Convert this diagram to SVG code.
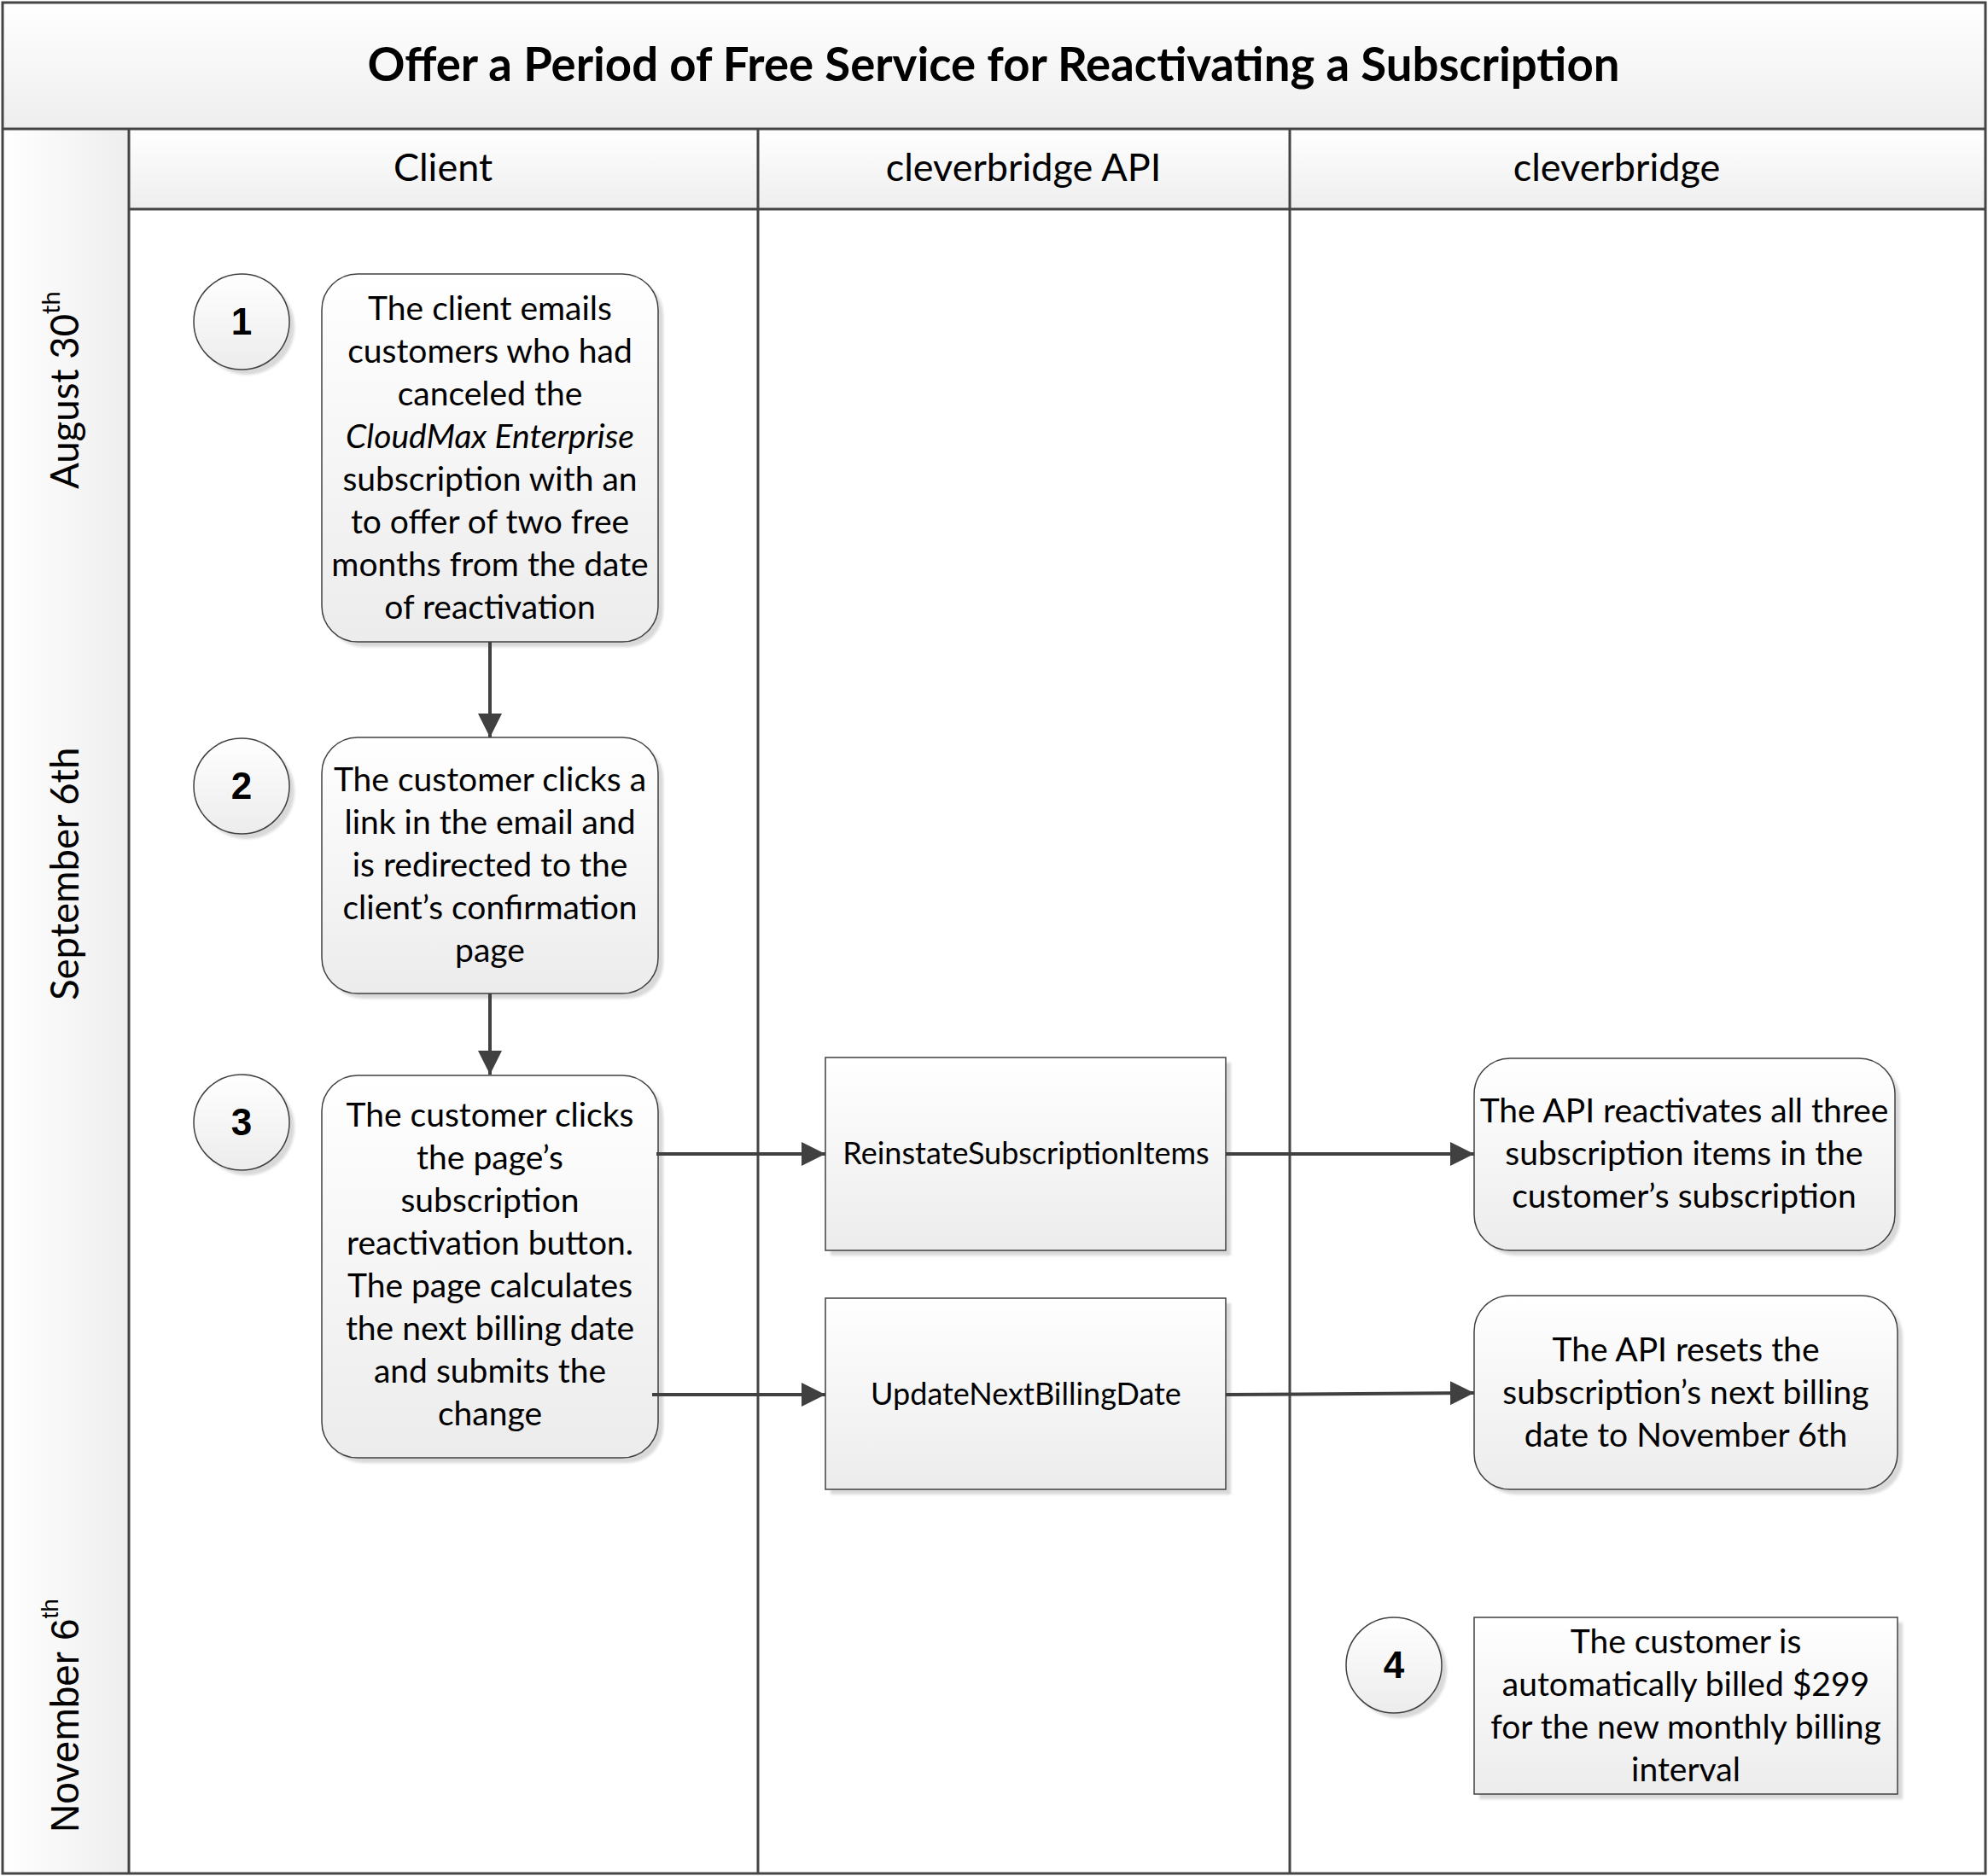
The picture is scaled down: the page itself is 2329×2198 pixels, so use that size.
<svg xmlns="http://www.w3.org/2000/svg" width="2329" height="2198" viewBox="0 0 2329 2198">
<defs>
<style>
.frame{fill:none;stroke:#454545;stroke-width:3}
.lane{stroke:#454545;stroke-width:3;fill:none}
.hdr{font-family:Lato,'Open Sans',sans-serif;font-size:45px;fill:#000;text-anchor:middle}
.title{font-family:Lato,'Open Sans',sans-serif;font-size:54.5px;font-weight:bold;fill:#000;text-anchor:middle}
.date{font-family:Lato,'Open Sans',sans-serif;font-size:45.5px;fill:#000}
.body{font-family:Lato,'Open Sans',sans-serif;font-size:39px;fill:#000;text-anchor:middle}
.api{font-family:Lato,'Open Sans',sans-serif;font-size:36px;fill:#000;text-anchor:middle}
.num{font-family:'Liberation Sans',Arial,sans-serif;font-size:44px;font-weight:bold;fill:#000;text-anchor:middle}
.shape{fill:url(#gNode);stroke:#404040;stroke-width:1.5}
.shadow{fill:#d9d9d9;filter:url(#blur)}
.conn{stroke:#404040;stroke-width:4;fill:none;marker-end:url(#arrow)}
</style>
<linearGradient id="gNode" x1="0" y1="0" x2="0" y2="1">
<stop offset="0" stop-color="#ffffff"/>
<stop offset="1" stop-color="#ececec"/>
</linearGradient>
<linearGradient id="gHead" x1="0" y1="0" x2="0" y2="1">
<stop offset="0" stop-color="#ffffff"/>
<stop offset="1" stop-color="#eeeeee"/>
</linearGradient>
<linearGradient id="gSide" x1="0" y1="0" x2="1" y2="0">
<stop offset="0" stop-color="#ffffff"/>
<stop offset="1" stop-color="#eeeeee"/>
</linearGradient>
<filter id="blur" x="-10%" y="-10%" width="120%" height="120%">
<feGaussianBlur stdDeviation="1.5"/>
</filter>
<marker id="arrow" markerUnits="userSpaceOnUse" markerWidth="28" markerHeight="28" refX="28" refY="14" orient="auto">
<path d="M0,0 L28,14 L0,28 Z" fill="#404040"/>
</marker>
</defs>

<g id="background">
<rect x="0" y="0" width="2329" height="2198" fill="#ffffff"/>
<rect x="3" y="3" width="2323" height="148" fill="url(#gHead)"/>
<rect x="151" y="151" width="2175" height="94" fill="url(#gHead)"/>
<rect x="3" y="151" width="148" height="2044" fill="url(#gSide)"/>
</g>

<g id="lanes">
<rect class="frame" x="3" y="3" width="2323" height="2192"/>
<line class="lane" x1="3" y1="151" x2="2326" y2="151"/>
<line class="lane" x1="151" y1="245" x2="2326" y2="245"/>
<line class="lane" x1="151" y1="151" x2="151" y2="2195"/>
<line class="lane" x1="888" y1="151" x2="888" y2="2195"/>
<line class="lane" x1="1511" y1="151" x2="1511" y2="2195"/>
</g>

<g id="title">
<text class="title" x="1164" y="95">Offer a Period of Free Service for Reactivating a Subscription</text>
</g>

<g id="lane-headers">
<text class="hdr" x="519" y="212">Client</text>
<text class="hdr" x="1199" y="212">cleverbridge API</text>
<text class="hdr" x="1894" y="212">cleverbridge</text>
</g>

<g id="dates">
<text class="date" transform="translate(92,573) rotate(-90)">August 30<tspan font-size="29" dy="-22">th</tspan></text>
<text class="date" transform="translate(92,1172) rotate(-90)">September 6th</text>
<text transform="translate(92,2147) rotate(-90)" font-family="'Liberation Sans',Arial,sans-serif" font-size="46" fill="#000">November 6<tspan font-size="28" dy="-24">th</tspan></text>
</g>

<g id="step1">
<circle class="shadow" cx="289" cy="383" r="56"/>
<circle class="shape" cx="283" cy="377" r="56"/>
<text class="num" x="283" y="392">1</text>
</g>

<g id="node1">
<rect class="shadow" x="383" y="327" width="394" height="431" rx="42"/>
<rect class="shape" x="377" y="321" width="394" height="431" rx="42"/>
<text class="body" x="574" y="375">The client emails</text>
<text class="body" x="574" y="425">customers who had</text>
<text class="body" x="574" y="475">canceled the</text>
<text class="body" x="574" y="525" font-style="italic">CloudMax Enterprise</text>
<text class="body" x="574" y="575">subscription with an</text>
<text class="body" x="574" y="625">to offer of two free</text>
<text class="body" x="574" y="675">months from the date</text>
<text class="body" x="574" y="725">of reactivation</text>
</g>

<g id="step2">
<circle class="shadow" cx="289" cy="927" r="56"/>
<circle class="shape" cx="283" cy="921" r="56"/>
<text class="num" x="283" y="936">2</text>
</g>

<g id="node2">
<rect class="shadow" x="383" y="870" width="394" height="300" rx="42"/>
<rect class="shape" x="377" y="864" width="394" height="300" rx="42"/>
<text class="body" x="574" y="927">The customer clicks a</text>
<text class="body" x="574" y="977">link in the email and</text>
<text class="body" x="574" y="1027">is redirected to the</text>
<text class="body" x="574" y="1077">client’s confirmation</text>
<text class="body" x="574" y="1127">page</text>
</g>

<g id="step3">
<circle class="shadow" cx="289" cy="1321" r="56"/>
<circle class="shape" cx="283" cy="1315" r="56"/>
<text class="num" x="283" y="1330">3</text>
</g>

<g id="node3">
<rect class="shadow" x="383" y="1266" width="394" height="448" rx="42"/>
<rect class="shape" x="377" y="1260" width="394" height="448" rx="42"/>
<text class="body" x="574" y="1320">The customer clicks</text>
<text class="body" x="574" y="1370">the page’s</text>
<text class="body" x="574" y="1420">subscription</text>
<text class="body" x="574" y="1470">reactivation button.</text>
<text class="body" x="574" y="1520">The page calculates</text>
<text class="body" x="574" y="1570">the next billing date</text>
<text class="body" x="574" y="1620">and submits the</text>
<text class="body" x="574" y="1670">change</text>
</g>

<g id="api1">
<rect class="shadow" x="973" y="1245" width="469" height="226"/>
<rect class="shape" x="967" y="1239" width="469" height="226"/>
<text class="api" x="1202" y="1364">ReinstateSubscriptionItems</text>
</g>

<g id="api2">
<rect class="shadow" x="973" y="1527" width="469" height="224"/>
<rect class="shape" x="967" y="1521" width="469" height="224"/>
<text class="api" x="1202" y="1646">UpdateNextBillingDate</text>
</g>

<g id="cb1">
<rect class="shadow" x="1733" y="1246" width="493" height="225" rx="42"/>
<rect class="shape" x="1727" y="1240" width="493" height="225" rx="42"/>
<text class="body" x="1973" y="1315">The API reactivates all three</text>
<text class="body" x="1973" y="1365">subscription items in the</text>
<text class="body" x="1973" y="1415">customer’s subscription</text>
</g>

<g id="cb2">
<rect class="shadow" x="1733" y="1524" width="496" height="227" rx="42"/>
<rect class="shape" x="1727" y="1518" width="496" height="227" rx="42"/>
<text class="body" x="1975" y="1595">The API resets the</text>
<text class="body" x="1975" y="1645">subscription’s next billing</text>
<text class="body" x="1975" y="1695">date to November 6th</text>
</g>

<g id="step4">
<circle class="shadow" cx="1639" cy="1957" r="56"/>
<circle class="shape" cx="1633" cy="1951" r="56"/>
<text class="num" x="1633" y="1966">4</text>
</g>

<g id="node4">
<rect class="shadow" x="1733" y="1901" width="496" height="207"/>
<rect class="shape" x="1727" y="1895" width="496" height="207"/>
<text class="body" x="1975" y="1937">The customer is</text>
<text class="body" x="1975" y="1987">automatically billed $299</text>
<text class="body" x="1975" y="2037">for the new monthly billing</text>
<text class="body" x="1975" y="2087">interval</text>
</g>

<g id="connectors">
<line class="conn" x1="574" y1="752" x2="574" y2="864"/>
<line class="conn" x1="574" y1="1164" x2="574" y2="1259"/>
<line class="conn" x1="769" y1="1352" x2="967" y2="1352"/>
<line class="conn" x1="1436" y1="1352" x2="1727" y2="1352"/>
<line class="conn" x1="764" y1="1634" x2="967" y2="1634"/>
<line class="conn" x1="1436" y1="1634" x2="1727" y2="1632"/>
</g>
</svg>
